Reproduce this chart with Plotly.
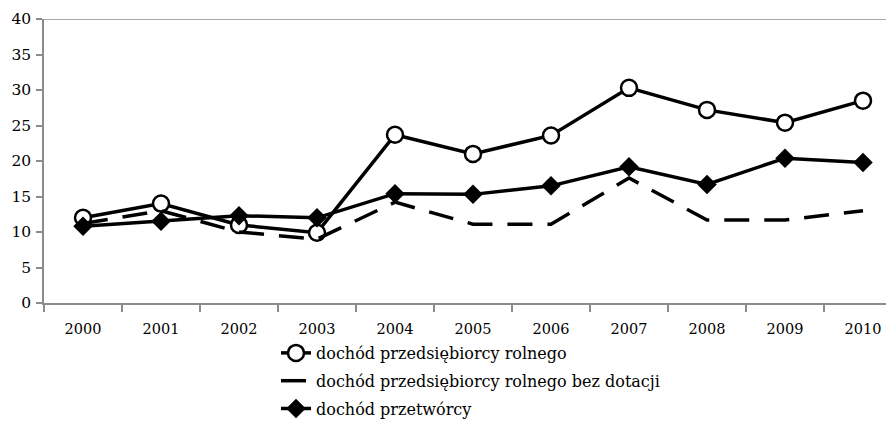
import plotly.graph_objects as go

years = ["2000", "2001", "2002", "2003", "2004", "2005", "2006", "2007", "2008", "2009", "2010"]
rolnik = [12.0, 14.0, 11.0, 9.9, 23.7, 21.0, 23.6, 30.3, 27.2, 25.4, 28.5]
rolnik_bez = [11.2, 13.0, 10.0, 9.0, 14.2, 11.1, 11.1, 17.6, 11.7, 11.7, 13.0]
przetworca = [10.8, 11.5, 12.3, 12.0, 15.4, 15.3, 16.5, 19.2, 16.7, 20.4, 19.8]
names = ["dochód przedsiębiorcy rolnego",
         "dochód przedsiębiorcy rolnego bez dotacji",
         "dochód przetwórcy"]
y_ticks = [0, 5, 10, 15, 20, 25, 30, 35, 40]

FONT = "DejaVu Serif"

fig = go.Figure()
fig.add_trace(go.Scatter(x=years, y=rolnik, name=names[0], mode="lines+markers",
                         line=dict(color="black", width=3.5),
                         marker=dict(symbol="circle", size=16, color="white",
                                     line=dict(color="black", width=2.5)),
                         legendgroup="a"))
fig.add_trace(go.Scatter(x=years, y=rolnik_bez, name=names[1], mode="lines",
                         line=dict(color="black", width=3.5, dash="25px,15px"),
                         legendgroup="b"))
fig.add_trace(go.Scatter(x=years, y=przetworca, name=names[2], mode="lines+markers",
                         line=dict(color="black", width=3.5),
                         marker=dict(symbol="diamond", size=15, color="black"),
                         legendgroup="c"))

# top border line at 40
fig.add_shape(type="line", xref="paper", yref="y", x0=0, x1=1, y0=40, y1=40,
              line=dict(color="#8c8c8c", width=1.5))

W, H = 886, 437
L, T, B = 36, 11, 142
plot_w = W - L
plot_h = H - T - B

fig.update_layout(
    width=W, height=H,
    margin=dict(l=L, r=0, t=T, b=B, autoexpand=False),
    paper_bgcolor="white", plot_bgcolor="white",
    font=dict(family=FONT, size=16, color="black"),
    showlegend=True,
    legend=dict(x=(268 - L) / plot_w, y=-(328 - (H - B)) / plot_h,
                xanchor="left", yanchor="top", font=dict(family=FONT, size=16),
                tracegroupgap=4, bgcolor="rgba(0,0,0,0)"),
    xaxis=dict(type="category", range=[-0.5, -0.5 + plot_w / 78.0], showline=True,
               linecolor="#8c8c8c", linewidth=1.5, showgrid=False,
               ticks="outside", tickson="boundaries", ticklen=7,
               tickcolor="#8c8c8c", tickwidth=1.5, zeroline=False,
               ticklabelstandoff=12,
               tickangle=0, tickfont=dict(family=FONT, size=14.5)),
    yaxis=dict(range=[0, 40], tickvals=y_ticks, showline=True,
               linecolor="#8c8c8c", linewidth=1.5, showgrid=False,
               ticks="outside", ticklen=6, tickcolor="#8c8c8c", tickwidth=1.5,
               ticklabelstandoff=2,
               zeroline=False, tickfont=dict(family=FONT, size=15.5)),
)

fig.write_html("out.html")
